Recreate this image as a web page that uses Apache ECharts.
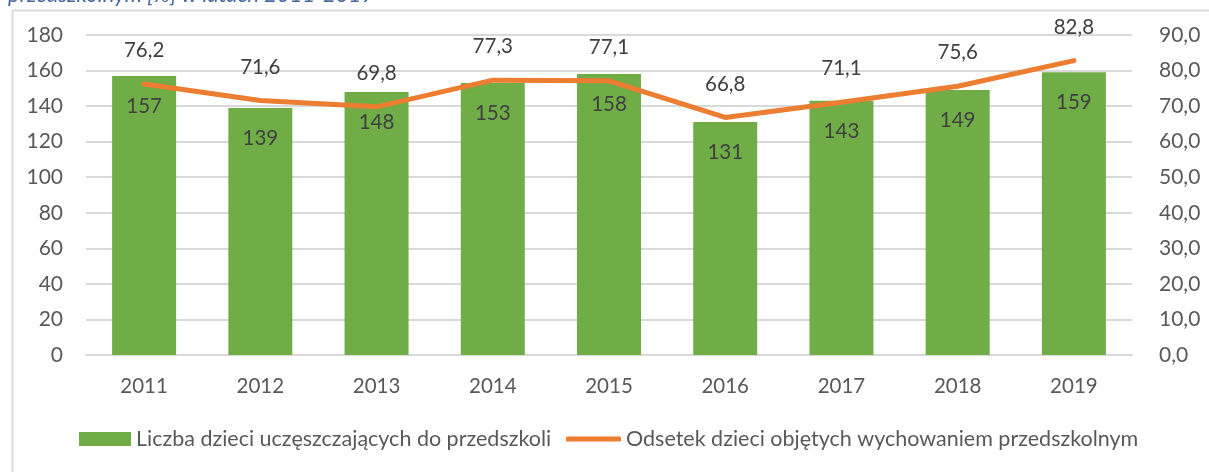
<!DOCTYPE html>
<html>
<head>
<meta charset="utf-8">
<script src="https://cdn.jsdelivr.net/npm/echarts@6/dist/echarts.min.js"></script>
<style>
  html, body { margin: 0; padding: 0; background: #fff; }
  #chart { width: 1209px; height: 472px; }
</style>
</head>
<body>
<div id="chart"></div>
<script>
// Years on the category axis
const years = ['2011', '2012', '2013', '2014', '2015', '2016', '2017', '2018', '2019'];
// Number of children attending preschool
const childrenCount = [157, 139, 148, 153, 158, 131, 143, 149, 159];
// Share of children in preschool education [%]
const coverageShare = [76.2, 71.6, 69.8, 77.3, 77.1, 66.8, 71.1, 75.6, 82.8];

const barName = 'Liczba dzieci uczęszczających do przedszkoli';
const lineName = 'Odsetek dzieci objętych wychowaniem przedszkolnym';

const FONT = 'Lato, "Noto Sans", sans-serif';
const TEXT = '#595959';
const LABEL = '#404040';
const GRID = '#D9D9D9';

const chart = echarts.init(document.getElementById('chart'), null, { renderer: 'canvas' });

const fmtComma = v => v.toFixed(1).replace('.', ',');

chart.setOption({
  animation: false,
  textStyle: { fontFamily: FONT },
  graphic: [
    {
      type: 'rect',
      left: 10, top: 8,
      shape: { width: 1260, height: 520 },
      style: { fill: 'none', stroke: '#D9D9D9', lineWidth: 2 },
      silent: true
    },
    {
      type: 'text',
      left: 8, top: -16.5,
      style: {
        text: 'przedszkolnym [%] w latach 2011-2019',
        font: 'italic 22px ' + FONT,
        fill: '#44679C'
      },
      silent: true
    }
  ],
  grid: { left: 86, right: 77, top: 35, bottom: 117 },
  legend: [
    {
      data: [barName],
      left: 79, top: 428,
      padding: 0,
      itemWidth: 52, itemHeight: 14,
      icon: 'rect',
      textStyle: { color: TEXT, fontSize: 21.5, fontFamily: FONT },
      selectedMode: false
    },
    {
      data: [lineName],
      left: 566, top: 428,
      padding: 0,
      itemWidth: 55, itemHeight: 5,
      icon: 'roundRect',
      textStyle: { color: TEXT, fontSize: 21.5, fontFamily: FONT },
      selectedMode: false
    }
  ],
  xAxis: {
    type: 'category',
    data: years,
    axisLine: { lineStyle: { color: GRID, width: 2 } },
    axisTick: { show: false },
    axisLabel: { color: TEXT, fontSize: 20.5, margin: 21, fontFamily: FONT }
  },
  yAxis: [
    {
      type: 'value',
      min: 0, max: 180, interval: 20,
      axisLine: { show: false },
      axisTick: { show: false },
      splitLine: { lineStyle: { color: GRID, width: 2 } },
      axisLabel: { color: TEXT, fontSize: 21, margin: 23, fontFamily: FONT }
    },
    {
      type: 'value',
      min: 0, max: 90, interval: 10,
      axisLine: { show: false },
      axisTick: { show: false },
      splitLine: { show: false },
      axisLabel: {
        color: TEXT, fontSize: 21, margin: 27, fontFamily: FONT,
        formatter: v => fmtComma(v)
      }
    }
  ],
  series: [
    {
      name: barName,
      type: 'bar',
      data: childrenCount,
      barWidth: 64,
      itemStyle: { color: '#70AD47' },
      label: {
        show: true,
        position: 'insideTop',
        distance: 20,
        color: LABEL,
        fontSize: 20.5,
        fontFamily: FONT
      }
    },
    {
      name: lineName,
      type: 'line',
      yAxisIndex: 1,
      data: coverageShare,
      symbol: 'circle',
      symbolSize: 2,
      lineStyle: { color: '#ED7D31', width: 5, cap: 'round', join: 'round' },
      itemStyle: { color: '#ED7D31' },
      label: {
        show: true,
        position: 'top',
        distance: 22,
        color: LABEL,
        fontSize: 20.5,
        fontFamily: FONT,
        formatter: p => fmtComma(p.value)
      }
    }
  ]
});
</script>
</body>
</html>
